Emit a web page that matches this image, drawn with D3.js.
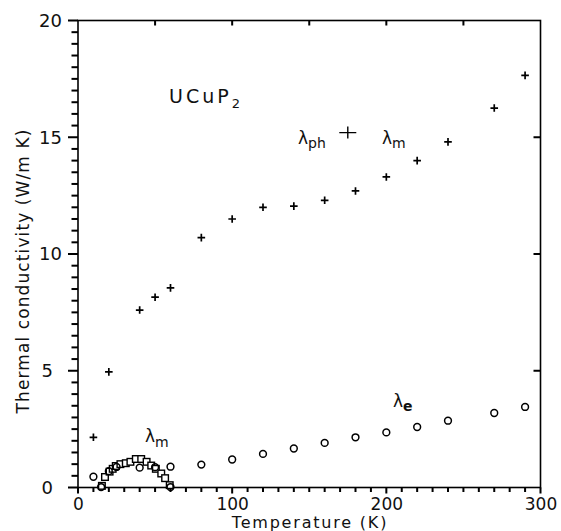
<!DOCTYPE html>
<html>
<head>
<meta charset="utf-8">
<script src="https://cdn.jsdelivr.net/npm/d3@7"></script>
<style>
  html, body { margin: 0; padding: 0; background: #fff; }
  svg text { font-family: "DejaVu Sans", "Liberation Sans", sans-serif; fill: #111; }
</style>
</head>
<body>
<svg id="chart" width="561" height="531"></svg>
<script>
// λph + λm (crosses)
const crossT = [10, 20, 40, 50, 60, 80, 100, 120, 140, 160, 180, 200, 220, 240, 270, 290];
const crossK = [2.15, 4.95, 7.6, 8.15, 8.55, 10.7, 11.5, 12.0, 12.05, 12.3, 12.7, 13.3, 14.0, 14.8, 16.25, 17.65];
// λe (circles)
const circT = [10, 15, 20, 25, 40, 50, 60, 60, 80, 100, 120, 140, 160, 180, 200, 220, 240, 270, 290];
const circK = [0.46, 0.02, 0.7, 0.88, 0.85, 0.87, 0.89, 0.02, 0.98, 1.2, 1.44, 1.67, 1.91, 2.15, 2.36, 2.59, 2.86, 3.19, 3.45];
// λm (squares)
const sqT = [15.5, 17.5, 20.5, 22.5, 24.5, 27.5, 31, 34, 37.5, 41, 44.5, 47.5, 50.5, 54, 56.5, 59.5];
const sqK = [0.07, 0.45, 0.68, 0.8, 0.92, 1.0, 1.04, 1.1, 1.22, 1.22, 1.1, 0.94, 0.8, 0.6, 0.4, 0.1];

const xMajor = [0, 100, 200, 300];
const yMajor = [0, 5, 10, 15, 20];

const svg = d3.select("#chart");
const mL = 78, mR = 540.5, mT = 20.5, mB = 487.5;
const x = d3.scaleLinear().domain([0, 300]).range([mL, mR]);
const y = d3.scaleLinear().domain([0, 20]).range([mB, mT]);
const ink = "#000";

// frame
svg.append("rect").attr("x", mL).attr("y", mT)
  .attr("width", mR - mL).attr("height", mB - mT)
  .attr("fill", "none").attr("stroke", ink).attr("stroke-width", 1.6);

// tick marks drawn from the scales
const yMinor = d3.range(0, 20.01, 0.5);
const xMinor = d3.range(0, 300.1, 10);
const tickG = svg.append("g");
tickG.selectAll("rect.ly").data(yMinor).join("rect").attr("class", "ly")
  .attr("x", d => mL - (yMajor.includes(d) ? 10 : 6.5)).attr("y", d => y(d) - 1)
  .attr("width", d => (yMajor.includes(d) ? 10 : 6.5)).attr("height", 2).attr("fill", ink);
tickG.selectAll("rect.bx").data(xMinor).join("rect").attr("class", "bx")
  .attr("x", d => x(d) - 1).attr("y", mB)
  .attr("width", 2).attr("height", d => (xMajor.includes(d) ? 6 : 4.5)).attr("fill", ink);
tickG.selectAll("rect.tx").data(d3.range(50, 300, 50)).join("rect").attr("class", "tx")
  .attr("x", d => x(d) - 1).attr("y", mT)
  .attr("width", 2).attr("height", 5).attr("fill", ink);
tickG.selectAll("rect.ry").data([5, 10, 15]).join("rect").attr("class", "ry")
  .attr("x", mR - 7).attr("y", d => y(d) - 1)
  .attr("width", 7).attr("height", 2).attr("fill", ink);

// tick labels via d3 axes
const gL = svg.append("g").attr("transform", `translate(${mL},0)`)
  .call(d3.axisLeft(y).tickValues(yMajor).tickSize(0).tickPadding(16).tickFormat(d3.format("d")));
gL.select(".domain").remove();
gL.selectAll("line").remove();
gL.selectAll("text").attr("font-size", 18).attr("fill", "#111")
  .attr("dx", d => d < 10 ? -9 : 0);

const gB = svg.append("g").attr("transform", `translate(0,${mB})`)
  .call(d3.axisBottom(x).tickValues(xMajor).tickSize(0).tickPadding(10).tickFormat(d3.format("d")));
gB.select(".domain").remove();
gB.selectAll("line").remove();
gB.selectAll("text").attr("font-size", 17).attr("fill", "#111");

// axis titles
svg.append("text").attr("x", 310).attr("y", 527.5).attr("text-anchor", "middle")
  .attr("font-size", 16).attr("letter-spacing", 1.8).text("Temperature  (K)");
svg.append("text").attr("transform", `translate(29,271) rotate(-90)`)
  .attr("text-anchor", "middle").attr("font-size", 17).attr("letter-spacing", 1.1)
  .text("Thermal conductivity  (W/m K)");

// crosses
const crossData = crossT.map((t, i) => ({ t, k: crossK[i] }));
const cs = 3.8;
svg.append("g").selectAll("path").data(crossData).join("path")
  .attr("d", d => `M${x(d.t) - cs},${y(d.k)}H${x(d.t) + cs}M${x(d.t)},${y(d.k) - cs}V${y(d.k) + cs}`)
  .attr("stroke", ink).attr("stroke-width", 1.7).attr("fill", "none");

// squares
const sqData = sqT.map((t, i) => ({ t, k: sqK[i] }));
svg.append("g").selectAll("rect").data(sqData).join("rect")
  .attr("x", d => x(d.t) - 3.3).attr("y", d => y(d.k) - 3.3)
  .attr("width", 6.6).attr("height", 6.6)
  .attr("fill", "#fff").attr("stroke", ink).attr("stroke-width", 1.4);

// circles
const circData = circT.map((t, i) => ({ t, k: circK[i] }));
svg.append("g").selectAll("circle").data(circData).join("circle")
  .attr("cx", d => x(d.t)).attr("cy", d => y(d.k)).attr("r", 3.4)
  .attr("fill", "none").attr("stroke", ink).attr("stroke-width", 1.5);

// annotations
const t1 = svg.append("text").attr("x", 169).attr("y", 103).attr("font-size", 19).attr("letter-spacing", 3);
t1.append("tspan").text("UCuP");
t1.append("tspan").attr("font-size", 13).attr("dy", 5).attr("letter-spacing", 0).text("2");

const t2 = svg.append("text").attr("x", 298).attr("y", 144).attr("font-size", 17);
t2.append("tspan").text("λ");
t2.append("tspan").attr("font-size", 14).attr("dy", 4).text("ph");
// legend cross
svg.append("path")
  .attr("d", `M${x(175) - 8.5},${y(15.2)}H${x(175) + 8.5}M${x(175)},${y(15.2) - 6}V${y(15.2) + 6}`)
  .attr("stroke", ink).attr("stroke-width", 1.4);
const t3 = svg.append("text").attr("x", 382).attr("y", 144).attr("font-size", 17);
t3.append("tspan").text("λ");
t3.append("tspan").attr("font-size", 14).attr("dy", 4).text("m");

const t4 = svg.append("text").attr("x", 145).attr("y", 442).attr("font-size", 17);
t4.append("tspan").text("λ");
t4.append("tspan").attr("font-size", 14).attr("dy", 5).text("m");

const t5 = svg.append("text").attr("x", 393).attr("y", 407).attr("font-size", 17);
t5.append("tspan").text("λ");
t5.append("tspan").attr("font-size", 14).attr("font-weight", "bold").attr("dy", 4).text("e");
</script>
</body>
</html>
